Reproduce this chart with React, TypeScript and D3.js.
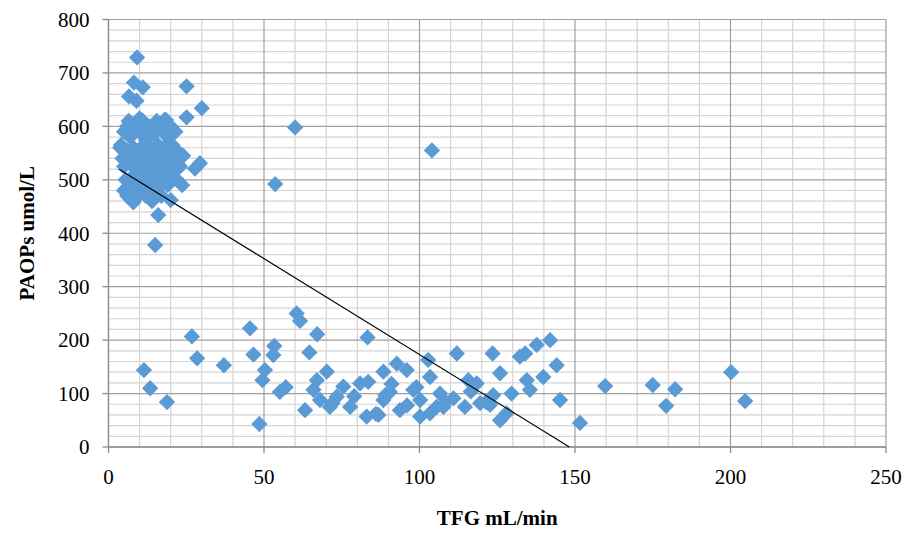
import React from "react";
import * as d3 from "d3";

const W = 909;
const H = 533;

const xTicks = [0, 50, 100, 150, 200, 250];
const yTicks = [0, 100, 200, 300, 400, 500, 600, 700, 800];
const xMinor = d3.range(0, 251, 10);
const yMinor = d3.range(0, 801, 20);

// TFG (mL/min) values of the points
const tfg: number[] = [
  // high cluster
  9.2, 8.2, 11, 6.6, 9, 25.1, 30, 25.1, 29.4, 27.8, 16, 15, 60, 104, 53.6, 18.5,
  4, 4.5, 5, 5, 5.5, 6, 6, 6.5, 7, 7, 7.5, 8, 8, 8.5, 9, 9, 9.5, 10, 10, 10.5,
  11, 11, 11.5, 12, 12, 12.5, 13, 13, 13.5, 14, 14, 14.5, 15, 15, 15.5, 16, 16,
  16.5, 17, 17, 17.5, 18, 18, 18.5, 19, 19, 19.5, 20, 20, 20.5, 21, 21.5, 22, 22,
  22.5, 23, 23.7, 6, 3.8, 5, 7, 12, 20, 17, 10, 14, 8, 22, 24,
  // low group
  11.4, 13.4, 18.8, 26.8, 28.5, 37.1, 45.5, 46.6, 48.5, 49.5, 50.3, 53.3, 53,
  55.1, 57, 60.5, 61.6, 63.2, 64.6, 67.1, 67, 65.9, 68, 70.2, 71.2, 73.4, 75.5,
  77.7, 80.9, 83, 83.3, 83.5, 86.8, 88.4, 88.4, 90.5, 92.7, 93.7, 95.9, 98,
  100.2, 100.2, 102.8, 103.4, 103.4, 105.5, 106.6, 107.7, 110.9, 112, 114.6,
  115.7, 118.4, 119.5, 122.7, 123.5, 123.7, 125.9, 125.9, 128, 129.6, 132.3, 134,
  134.5, 135.5, 137.7, 139.8, 142, 144.1, 145.2, 151.6, 159.7, 175, 179.3, 182.2,
  200.2, 204.7, 72, 79, 91, 96, 99, 108.5, 116.5, 121.4, 86, 89,
];

// PAOPs (umol/L) values of the points
const paops: number[] = [
  729, 682, 673, 656, 648, 675, 634, 617, 531, 521, 434, 378, 598, 555, 492, 612,
  565, 540, 525, 590, 500, 470, 555, 610, 580, 530, 505, 485, 560, 600, 545, 520,
  470, 590, 500, 560, 535, 610, 480, 575, 515, 545, 600, 495, 560, 530, 475, 585,
  505, 550, 610, 520, 565, 490, 540, 595, 505, 560, 612, 525, 580, 490, 545, 510,
  600, 565, 530, 590, 555, 500, 540, 525, 490, 600, 560, 480, 465, 470, 462, 470,
  615, 460, 458, 520, 545,
  144, 110, 84, 207, 166, 153, 222, 173, 43, 125, 144, 189, 172, 103, 112, 250,
  236, 69, 177, 211, 125, 107, 88, 141, 75, 94, 113, 75, 119, 57, 205, 122, 60,
  141, 88, 103, 156, 69, 144, 107, 88, 57, 163, 63, 131, 75, 100, 75, 91, 175, 75,
  125, 119, 82, 79, 175, 97, 138, 50, 63, 100, 169, 175, 125, 107, 191, 131, 200,
  153, 88, 45, 114, 116, 77, 108, 140, 86, 82, 95, 118, 78, 112, 84, 104, 84, 62,
  97,
];

// Linear trend line (intercept, slope) and its x range start
const trendIntercept = 532;
const trendSlope = -3.59;
const trendXStart = 3.4;

const margin = { left: 108.5, right: W - 886, top: 19.5, bottom: H - 447 };

export default function App() {
  const x = d3.scaleLinear().domain([0, 250]).range([margin.left, W - margin.right]);
  const y = d3.scaleLinear().domain([0, 800]).range([H - margin.bottom, margin.top]);
  const points = tfg.map((v, i) => [v, paops[i]] as [number, number]);
  const diamond = d3.symbol().type(d3.symbolDiamond2 ?? d3.symbolDiamond).size(170)();
  const xEnd = -trendIntercept / trendSlope;
  const trend = d3.line<number>()
    .x((d) => x(d))
    .y((d) => y(trendIntercept + trendSlope * d))([trendXStart, xEnd]);

  const font = "'Liberation Serif', 'Times New Roman', serif";
  const x0 = x(0), x1 = x(250), y0 = y(0), y1 = y(800);

  return (
    <svg width={W} height={H} style={{ position: "absolute", left: 0, top: 0, background: "#fff" }}>
      {/* minor grid */}
      {xMinor.filter((v) => v % 50 !== 0).map((v) => (
        <line key={"xm" + v} x1={x(v)} x2={x(v)} y1={y1} y2={y0} stroke="#d4d4d4" strokeWidth={1.2} />
      ))}
      {yMinor.filter((v) => v % 100 !== 0).map((v) => (
        <line key={"ym" + v} x1={x0} x2={x1} y1={y(v)} y2={y(v)} stroke="#d4d4d4" strokeWidth={1.2} />
      ))}
      {/* major grid */}
      {xTicks.map((v) => (
        <line key={"xg" + v} x1={x(v)} x2={x(v)} y1={y1} y2={y0} stroke="#a0a0a0" strokeWidth={1.2} />
      ))}
      {yTicks.map((v) => (
        <line key={"yg" + v} x1={x0} x2={x1} y1={y(v)} y2={y(v)} stroke="#a0a0a0" strokeWidth={1.2} />
      ))}
      {/* axes */}
      <line x1={x0} x2={x0} y1={y1} y2={y0} stroke="#8c8c8c" strokeWidth={1.3} />
      <line x1={x0} x2={x1} y1={y0} y2={y0} stroke="#8c8c8c" strokeWidth={1.3} />
      {yTicks.map((v) => (
        <g key={"yt" + v}>
          <line x1={x0 - 6} x2={x0} y1={y(v)} y2={y(v)} stroke="#8c8c8c" strokeWidth={1.3} />
          <text x={x0 - 19} y={y(v)} dy="0.35em" textAnchor="end" fontFamily={font} fontSize={21} fill="#000">
            {v}
          </text>
        </g>
      ))}
      {xTicks.map((v) => (
        <g key={"xt" + v}>
          <line x1={x(v)} x2={x(v)} y1={y0} y2={y0 + 6} stroke="#8c8c8c" strokeWidth={1.3} />
          <text x={x(v)} y={y0 + 37} textAnchor="middle" fontFamily={font} fontSize={21} fill="#000">
            {v}
          </text>
        </g>
      ))}
      {/* points */}
      {points.map(([a, b], i) => (
        <path key={"p" + i} d={diamond as string} transform={`translate(${x(a)},${y(b)})`} fill="#5b9bd5" />
      ))}
      {/* trend line */}
      <path d={trend as string} fill="none" stroke="#000" strokeWidth={1.2} />
      {/* titles */}
      <text x={(x0 + x1) / 2} y={525} textAnchor="middle" fontFamily={font} fontSize={21} fontWeight="bold" fill="#000">
        TFG mL/min
      </text>
      <text transform={`translate(34,${(y0 + y1) / 2}) rotate(-90)`} textAnchor="middle" fontFamily={font} fontSize={21} fontWeight="bold" fill="#000">
        PAOPs umol/L
      </text>
    </svg>
  );
}
